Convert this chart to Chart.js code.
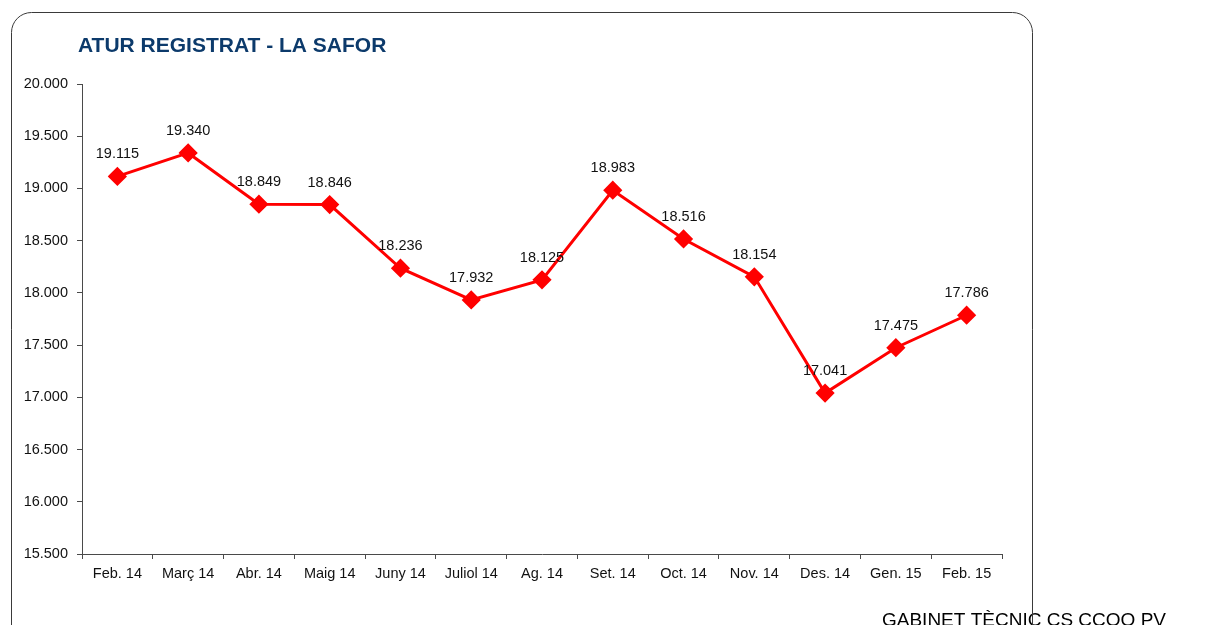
<!DOCTYPE html>
<html>
<head>
<meta charset="utf-8">
<script src="https://cdn.jsdelivr.net/npm/chart.js@4"></script>
<style>
html,body{margin:0;padding:0;background:#fff;}
#wrap{position:relative;width:1220px;height:625px;}
</style>
</head>
<body>
<div id="wrap"><canvas id="c" width="1220" height="625"></canvas></div>
<script>
const categories = ["Feb. 14","Març 14","Abr. 14","Maig 14","Juny 14","Juliol 14","Ag. 14","Set. 14","Oct. 14","Nov. 14","Des. 14","Gen. 15","Feb. 15"];
const aturValues = [19115,19340,18849,18846,18236,17932,18125,18983,18516,18154,17041,17475,17786];
const yTicks = [15500,16000,16500,17000,17500,18000,18500,19000,19500,20000];
const titleText = "ATUR REGISTRAT - LA SAFOR";
const footerText = "GABINET TÈCNIC CS CCOO PV";

function fmt(v){ return String(v).replace(/\B(?=(\d{3})+(?!\d))/g, "."); }

const decor = {
  id: 'decor',
  afterDraw(chart){
    const ctx = chart.ctx;
    ctx.save();
    // data labels
    const meta = chart.getDatasetMeta(0);
    ctx.font = '14.5px "Liberation Sans", Arial, sans-serif';
    ctx.fillStyle = '#111';
    ctx.textAlign = 'center';
    ctx.textBaseline = 'middle';
    meta.data.forEach((pt, i) => {
      ctx.fillText(fmt(aturValues[i]), pt.x, pt.y - 22);
    });
    // title
    ctx.font = 'bold 21px "Liberation Sans", Arial, sans-serif';
    ctx.fillStyle = '#0c3a6b';
    ctx.textAlign = 'left';
    ctx.textBaseline = 'middle';
    ctx.fillText(titleText, 78, 46);
    // footer
    ctx.font = '19px "Liberation Sans", Arial, sans-serif';
    ctx.fillStyle = '#000';
    ctx.textBaseline = 'alphabetic';
    ctx.fillText(footerText, 882, 626);
    // border
    ctx.strokeStyle = '#3a3a3a';
    ctx.lineWidth = 1;
    const x0 = 11.5, y0 = 12.5, x1 = 1032.5, y1 = 660, r = 20;
    ctx.beginPath();
    ctx.moveTo(x0, y1);
    ctx.lineTo(x0, y0 + r);
    ctx.arcTo(x0, y0, x0 + r, y0, r);
    ctx.lineTo(x1 - r, y0);
    ctx.arcTo(x1, y0, x1, y0 + r, r);
    ctx.lineTo(x1, y1);
    ctx.stroke();
    ctx.restore();
  }
};

new Chart(document.getElementById('c'), {
  type: 'line',
  data: {
    labels: categories,
    datasets: [{
      data: aturValues,
      borderColor: '#ff0000',
      backgroundColor: '#ff0000',
      borderWidth: 3,
      pointStyle: 'rectRot',
      pointRadius: 7.5,
      pointHoverRadius: 7.5,
      pointBackgroundColor: '#ff0000',
      pointBorderColor: '#ff0000',
      tension: 0
    }]
  },
  options: {
    responsive: false,
    animation: false,
    events: [],
    layout: { padding: { left: 0, top: 84, right: 218, bottom: 0 } },
    plugins: { legend: { display: false }, title: { display: false }, tooltip: { enabled: false } },
    scales: {
      x: {
        offset: true,
        grid: { offset: true, drawOnChartArea: false, drawTicks: true, tickLength: 5, color: '#4a4a4a' },
        border: { color: '#4a4a4a', width: 1 },
        ticks: { color: '#111', padding: 6, maxRotation: 0, autoSkip: false, font: { family: '"Liberation Sans", Arial, sans-serif', size: 14.5 } },
        afterFit(s){ s.height = 71; }
      },
      y: {
        min: 15500, max: 20000,
        afterBuildTicks(s){ s.ticks = yTicks.map(v => ({ value: v })); },
        grid: { drawOnChartArea: false, drawTicks: true, tickLength: 5, color: '#4a4a4a' },
        border: { color: '#4a4a4a', width: 1 },
        ticks: { color: '#111', padding: 9, font: { family: '"Liberation Sans", Arial, sans-serif', size: 14.5 }, callback: v => fmt(v) },
        afterFit(s){ s.width = 82; }
      }
    }
  },
  plugins: [decor]
});
</script>
</body>
</html>
